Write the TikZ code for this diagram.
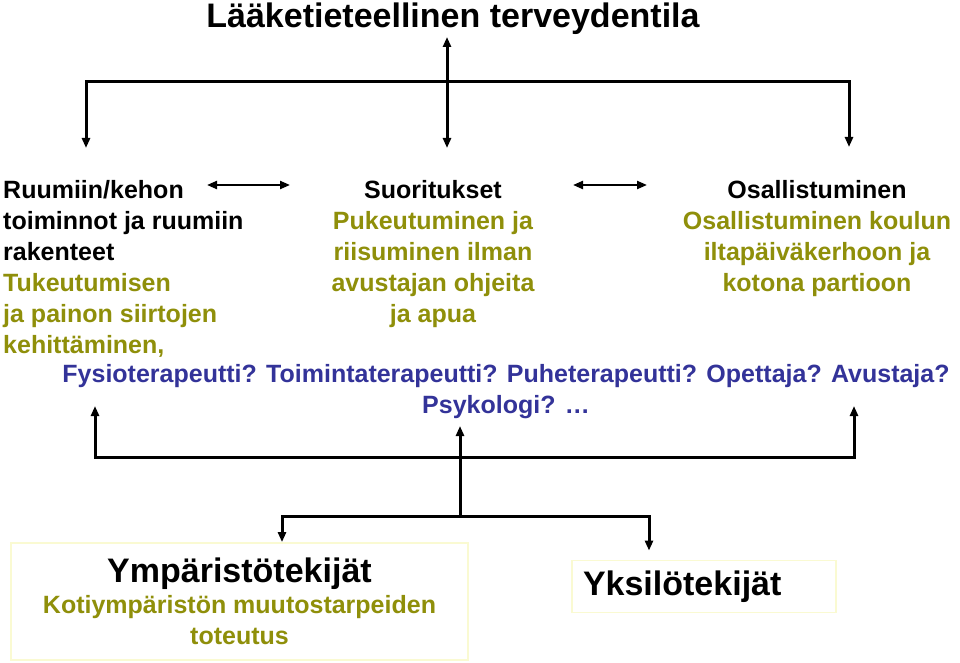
\documentclass[tikz,border=0pt]{standalone}
\usepackage{fontspec}
\setmainfont{Liberation Sans}
\usetikzlibrary{positioning,arrows.meta}

\definecolor{olivetxt}{HTML}{8F8F0A}
\definecolor{bluetxt}{HTML}{333399}
\definecolor{boxline}{HTML}{FAFAD2}

\tikzset{
  body/.style={font=\bfseries\fontsize{25}{31}\selectfont, inner sep=0pt},
  head/.style={font=\bfseries\fontsize{34}{40}\selectfont, inner sep=0pt},
  link/.style={line width=3pt},
  pair/.style={line width=2.2pt, <->},
  factorbox/.style={draw=boxline, line width=1.8pt, inner sep=0pt}
}

\begin{document}
\begin{tikzpicture}[x=1pt, y=-1pt, >={Triangle[length=10pt,width=8pt]}]
    \useasboundingbox (0,0) rectangle (960,663);

    % Define the title node (top)
    \node[head, anchor=base] (title) at (453,28) {Lääketieteellinen terveydentila};

    % Define the three component nodes (middle row)
    \node[body, anchor=north west, align=left] (bodyfn) at (3,180)
        {Ruumiin/kehon\\
         toiminnot ja ruumiin\\
         rakenteet\\
         \textcolor{olivetxt}{Tukeutumisen}\\
         \textcolor{olivetxt}{ja painon siirtojen}\\
         \textcolor{olivetxt}{kehittäminen,}};
    \node[body, anchor=north, align=center] (activity) at (433,180)
        {Suoritukset\\
         \textcolor{olivetxt}{Pukeutuminen ja}\\
         \textcolor{olivetxt}{riisuminen ilman}\\
         \textcolor{olivetxt}{avustajan ohjeita}\\
         \textcolor{olivetxt}{ja apua}};
    \node[body, anchor=north, align=center] (particip) at (817,180)
        {Osallistuminen\\
         \textcolor{olivetxt}{Osallistuminen koulun}\\
         \textcolor{olivetxt}{iltapäiväkerhoon ja}\\
         \textcolor{olivetxt}{kotona partioon}};

    % Define the professionals node
    \node[body, anchor=north, align=center, text=bluetxt] (profs) at (506,364)
        {Fysioterapeutti? Toimintaterapeutti? Puheterapeutti? Opettaja? Avustaja?\\
         Psykologi? …};

    % Define the two factor boxes (bottom)
    \node[factorbox, body, minimum width=457, minimum height=117, align=center] (envfac) at (239.5,601.5)
        {{\fontsize{34}{40}\selectfont Ympäristötekijät}\\
         \textcolor{olivetxt}{Kotiympäristön muutostarpeiden}\\
         \textcolor{olivetxt}{toteutus}};
    \node[factorbox, head, minimum width=264, minimum height=52, text width=242, inner xsep=11, align=left] (indfac) at (704,586.5)
        {Yksilötekijät};

    % Coordinates of the upper fork
    \coordinate (hub) at (447,82);
    \coordinate (hubL) at (86,82);
    \coordinate (hubR) at (849,82);
    \coordinate (toTitle) at (447,37);
    \coordinate (toBody) at (86,148);
    \coordinate (toAct) at (447,148);
    \coordinate (toPart) at (849,147);

    % Draw arrows between title and the three components
    \draw[link, <->] (toTitle) -- (toAct);
    \draw[link, ->] (hub) -- (hubL) -- (toBody);
    \draw[link, ->] (hub) -- (hubR) -- (toPart);

    % Draw the short arrows between the components
    \coordinate (bodyR) at (207,185);
    \coordinate (actL) at (290,185);
    \coordinate (actR) at (573,185);
    \coordinate (partL) at (647,185);
    \draw[pair] (bodyR) -- (actL);
    \draw[pair] (actR) -- (partL);

    % Coordinates of the lower fork
    \coordinate (profL) at (95,406);
    \coordinate (profR) at (854,406);
    \coordinate (profM) at (460,426);
    \coordinate (join) at (460,457);
    \coordinate (joinL) at (95,457);
    \coordinate (joinR) at (854,457);
    \coordinate (split) at (460,516);
    \coordinate (splitL) at (282,516);
    \coordinate (splitR) at (649,516);

    % Draw arrows from the factors up to the professionals
    \draw[link, ->] (split) -- (profM);
    \draw[link, ->] (join) -- (joinL) -- (profL);
    \draw[link, ->] (join) -- (joinR) -- (profR);

    % Draw arrows from the split down to the factor boxes
    \draw[link, ->] (split) -- (splitL) -- (splitL |- envfac.north);
    \draw[link, ->] (split) -- (splitR) -- ([yshift=9pt]splitR |- indfac.north);

\end{tikzpicture}
\end{document}
